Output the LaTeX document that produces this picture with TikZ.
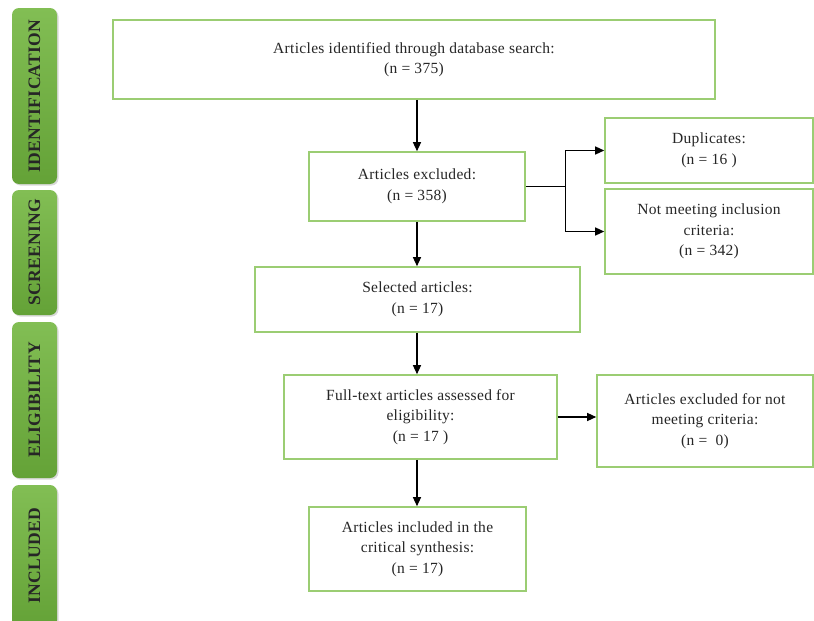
\documentclass[tikz,border=0pt]{standalone}
\usepackage{fontspec}
\setmainfont[LetterSpace=2]{Liberation Serif}
\usetikzlibrary{positioning, calc, arrows.meta, shadows}

\begin{document}
\begin{tikzpicture}[
  x=1pt, y=-1pt,
  every node/.style={
    align=center,
    inner sep=0pt,
    text=black!85,
    font=\fontsize{15.5}{20.5}\selectfont,
  },
  box/.style={
    draw=boxgreen,
    line width=1.6pt,
    fill=white,
  },
  phase/.style={
    rotate=90,
    rounded corners=7pt,
    minimum height=45pt,
    top color=barlight,
    bottom color=bardark,
    text=black!85,
    font=\fontsize{17.5}{17.5}\selectfont\bfseries,
    drop shadow={opacity=0.3, shadow xshift=1.5pt, shadow yshift=-1.5pt},
  },
  arrow/.style={
    -{Triangle[length=9pt, width=8pt]},
    line width=1.3pt,
  },
]
  \definecolor{boxgreen}{RGB}{155,205,115}
  \definecolor{barlight}{RGB}{130,190,84}
  \definecolor{bardark}{RGB}{100,162,55}

  \useasboundingbox (0,0) rectangle (814,621);

  \node[phase, minimum width=176pt] (idbar) at (34.5,96) {IDENTIFICATION};
  \node[phase, minimum width=125pt] (scrbar) at (34.5,252.5) {SCREENING};
  \node[phase, minimum width=156pt] (elibar) at (34.5,400) {ELIGIBILITY};
  \node[phase, minimum width=142pt] (incbar) at (34.5,556) {INCLUDED};

  \node[
    box,
    minimum width=602pt,
    minimum height=79pt,
  ] (ident) at (414,59.5)
  {
    Articles identified through database search:\\
    (n = 375)
  };
  \node[
    box,
    minimum width=216pt,
    minimum height=69pt,
  ] (excl) at (417,186.5)
  {
    Articles excluded:\\
    (n = 358)
  };
  \node[
    box,
    minimum width=208pt,
    minimum height=65pt,
  ] (dup) at (709,150.5)
  {
    Duplicates:\\
    (n = 16 )
  };
  \node[
    box,
    minimum width=208pt,
    minimum height=85pt,
  ] (notmeet) at (709,231.5)
  {
    Not meeting inclusion\\
    criteria:\\
    (n = 342)
  };
  \node[
    box,
    minimum width=325pt,
    minimum height=65pt,
  ] (sel) at (417.5,299.5)
  {
    Selected articles:\\
    (n = 17)
  };
  \node[
    box,
    minimum width=273pt,
    minimum height=84pt,
  ] (full) at (420.5,417)
  {
    Full-text articles assessed for\\
    eligibility:\\
    (n = 17 )
  };
  \node[
    box,
    minimum width=216pt,
    minimum height=92pt,
  ] (notcrit) at (705,421)
  {
    Articles excluded for not\\
    meeting criteria:\\
    (n = \ 0)
  };
  \node[
    box,
    minimum width=217pt,
    minimum height=84pt,
  ] (incl) at (417.5,549)
  {
    Articles included in the\\
    critical synthesis:\\
    (n = 17)
  };

  \draw[arrow] (ident.south -| excl.north) -- (excl.north);
  \draw[line width=1.3pt] (excl.east) -- ++(40,0) coordinate (split);
  \draw[arrow] (split) |- (dup.west);
  \draw[arrow] (split) |- (notmeet.west);
  \draw[arrow] (excl.south) -- (excl.south |- sel.north);
  \draw[arrow] (sel.south -| excl.south) -- (excl.south |- full.north);
  \draw[arrow] (full.east) -- (full.east -| notcrit.west);
  \draw[arrow] (full.south -| excl.south) -- (excl.south |- incl.north);
\end{tikzpicture}
\end{document}
